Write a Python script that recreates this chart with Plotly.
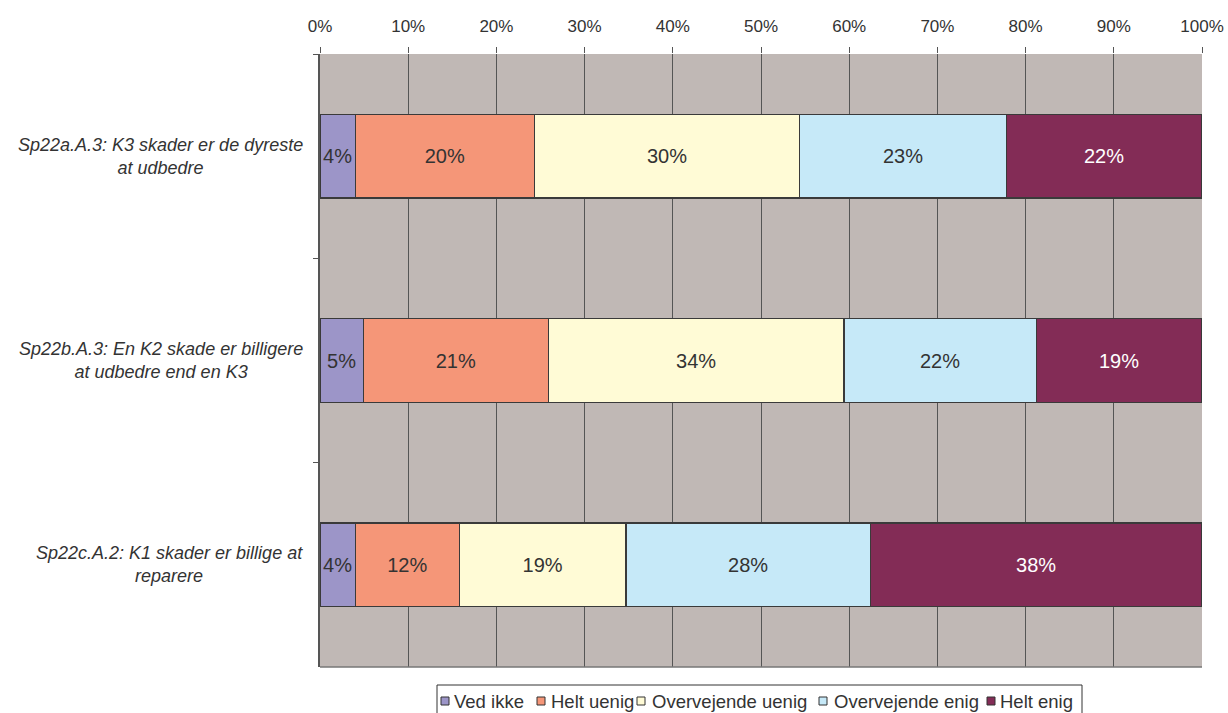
import plotly.graph_objects as go

# Survey statements (top to bottom) and answer shares in percent
categories = [
    "Sp22a.A.3: K3 skader er de dyreste<br>at udbedre",
    "Sp22b.A.3: En K2 skade er billigere<br>at udbedre end en K3",
    "Sp22c.A.2: K1 skader er billige at<br>reparere",
]
series_names = ["Ved ikke", "Helt uenig", "Overvejende uenig", "Overvejende enig", "Helt enig"]
ved_ikke = [4.0, 4.9, 4.0]
helt_uenig = [20.3, 21.0, 11.8]
overvejende_uenig = [30.1, 33.5, 18.9]
overvejende_enig = [23.4, 21.8, 27.7]
helt_enig = [22.2, 18.8, 37.6]
x_ticks = list(range(0, 101, 10))

series_values = [ved_ikke, helt_uenig, overvejende_uenig, overvejende_enig, helt_enig]
colors = ["#9C95C8", "#F59678", "#FFFBD6", "#C6E9F8", "#832C56"]
text_colors = ["#333333", "#333333", "#333333", "#333333", "#FFFFFF"]

FONT = "Liberation Sans, Arial, Helvetica, sans-serif"
W, H = 1228, 713
L, R, T, B = 320, 26, 54, 46
PW, PH = W - L - R, H - T - B


def px(x):
    """Pixel x -> paper x."""
    return (x - L) / PW


def py(y):
    """Pixel y (from top) -> paper y."""
    return (H - B - y) / PH


fig = go.Figure()
for name, vals, col, tcol in zip(series_names, series_values, colors, text_colors):
    fig.add_trace(go.Bar(
        name=name,
        y=categories,
        x=vals,
        orientation="h",
        marker=dict(color=col, line=dict(color="#3a3a3a", width=1.3)),
        texttemplate="%{x:.0f}%",
        textposition="inside",
        insidetextanchor="middle",
        textangle=0,
        constraintext="none",
        textfont=dict(family=FONT, size=20, color=tcol),
        hoverinfo="x+name",
        showlegend=False,
    ))

# Category labels: block right-aligned next to the axis, lines centred
for cat in categories:
    fig.add_annotation(
        x=px(305), xref="paper", y=cat, yref="y",
        text="<i>" + cat + "</i>", showarrow=False,
        xanchor="right", yanchor="middle", align="center",
        font=dict(family=FONT, size=18, color="#333333"),
    )

# Bottom frame line of the plot area
fig.add_shape(type="line", xref="paper", yref="paper", x0=0, x1=1, y0=0, y1=0,
              line=dict(color="#777777", width=1.5))

# Compact legend box under the chart
fig.add_shape(type="rect", xref="paper", yref="paper",
              x0=px(437), x1=px(1082), y0=py(720), y1=py(685),
              line=dict(color="#333333", width=1), fillcolor="white")
legend_square_x = [441, 537, 637, 819, 987]
legend_text_x = [452, 549, 650, 832, 998]
legend_y = 701
for name, col, sx, tx in zip(series_names, colors, legend_square_x, legend_text_x):
    fig.add_shape(type="rect", xref="paper", yref="paper",
                  x0=px(sx), x1=px(sx + 8), y0=py(legend_y + 4), y1=py(legend_y - 4),
                  line=dict(color="#333333", width=1), fillcolor=col)
    fig.add_annotation(
        x=px(tx), xref="paper", y=py(legend_y), yref="paper",
        text=name, showarrow=False, xanchor="left", yanchor="middle",
        font=dict(family=FONT, size=18.5, color="#333333"),
    )

fig.update_layout(
    barmode="stack",
    bargap=0.59,
    width=W, height=H,
    margin=dict(l=L, r=R, t=T, b=B, autoexpand=False),
    paper_bgcolor="white",
    plot_bgcolor="#C0B8B5",
    font=dict(family=FONT, size=17, color="#333333"),
    showlegend=False,
    xaxis=dict(
        side="top", range=[0, 100],
        tickvals=x_ticks, ticktext=[f"{v}%" for v in x_ticks],
        showgrid=True, gridcolor="#555555", gridwidth=1,
        ticks="outside", ticklen=6, tickcolor="#555555",
        ticklabelstandoff=8, automargin=False,
        showline=False, zeroline=False,
        tickfont=dict(family=FONT, size=17, color="#333333"),
    ),
    yaxis=dict(
        autorange="reversed",
        showticklabels=False, automargin=False,
        tickson="boundaries", ticks="outside", ticklen=5, tickcolor="#555555",
        showline=True, linecolor="#555555", linewidth=1.5,
        showgrid=False, zeroline=False,
    ),
)

fig.write_html("out.html")
